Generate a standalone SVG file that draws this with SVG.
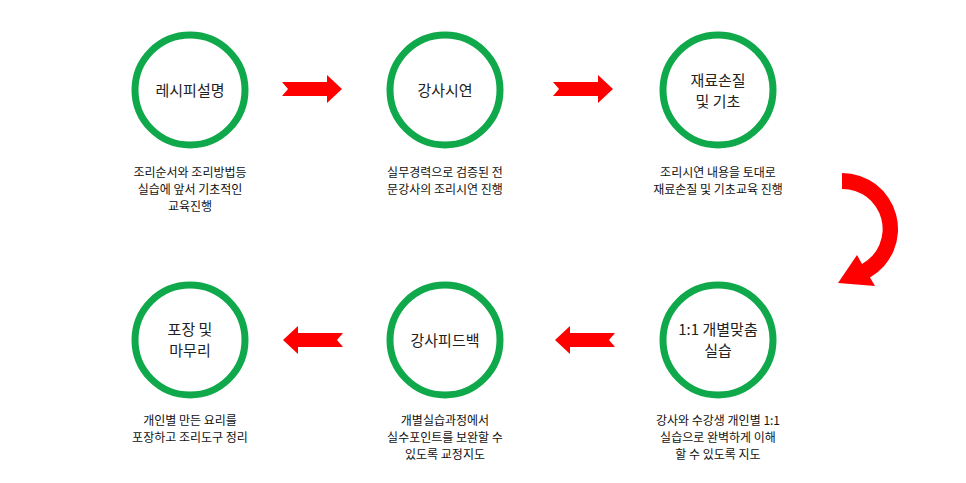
<svg xmlns="http://www.w3.org/2000/svg" width="966" height="483" viewBox="0 0 966 483">
<style>
.c{fill:#fff;stroke:#0fa84a;stroke-width:7}
.t{font-family:"Noto Sans CJK KR","Noto Sans",sans-serif;font-size:15px;fill:#222;text-anchor:middle}
.d{font-family:"Noto Sans CJK KR","Noto Sans",sans-serif;font-size:12px;fill:#111;text-anchor:middle}
.a{fill:#ff0000}
</style>
<defs><path id="ar" d="M0,7 L45,7 L45,0 L60,14 L45,28 L45,21 L0,21 L6,14 Z"/></defs>
<rect width="966" height="483" fill="#fff"/>
<g id="n1"><circle class="c" cx="190" cy="90" r="55"/><text class="t" x="190" y="96">레시피설명</text>
<text class="d" x="190" y="177">조리순서와 조리방법등</text><text class="d" x="190" y="194">실습에 앞서 기초적인</text><text class="d" x="190" y="211">교육진행</text></g>
<g id="n2"><circle class="c" cx="445" cy="90" r="55"/><text class="t" x="445" y="96">강사시연</text>
<text class="d" x="445" y="177">실무경력으로 검증된 전</text><text class="d" x="445" y="194">문강사의 조리시연 진행</text></g>
<g id="n3"><circle class="c" cx="718" cy="90" r="55"/><text class="t" x="718" y="86">재료손질</text><text class="t" x="718" y="107">및 기초</text>
<text class="d" x="718" y="177">조리시연 내용을 토대로</text><text class="d" x="718" y="194">재료손질 및 기초교육 진행</text></g>
<g id="n4"><circle class="c" cx="718" cy="340" r="55"/><text class="t" x="718" y="335">1:1 개별맞춤</text><text class="t" x="718" y="356">실습</text>
<text class="d" x="718" y="425">강사와 수강생 개인별 1:1</text><text class="d" x="718" y="442">실습으로 완벽하게 이해</text><text class="d" x="718" y="459">할 수 있도록 지도</text></g>
<g id="n5"><circle class="c" cx="445" cy="340" r="55"/><text class="t" x="445" y="346">강사피드백</text>
<text class="d" x="445" y="425">개별실습과정에서</text><text class="d" x="445" y="442">실수포인트를 보완할 수</text><text class="d" x="445" y="459">있도록 교정지도</text></g>
<g id="n6"><circle class="c" cx="190" cy="340" r="55"/><text class="t" x="190" y="335">포장 및</text><text class="t" x="190" y="356">마무리</text>
<text class="d" x="190" y="425">개인별 만든 요리를</text><text class="d" x="190" y="442">포장하고 조리도구 정리</text></g>
<g id="connectors">
<use href="#ar" class="a" x="282" y="75"/>
<use href="#ar" class="a" x="553" y="75"/>
<path class="a" d="M842,173 A56,56 0 0 1 870,277.5 L875,286 L838,283 L857,255 L862,264 A40,40 0 0 0 842,189 Z"/>
<use href="#ar" class="a" transform="translate(615,326) scale(-1,1)"/>
<use href="#ar" class="a" transform="translate(343,326) scale(-1,1)"/>
</g>
</svg>
